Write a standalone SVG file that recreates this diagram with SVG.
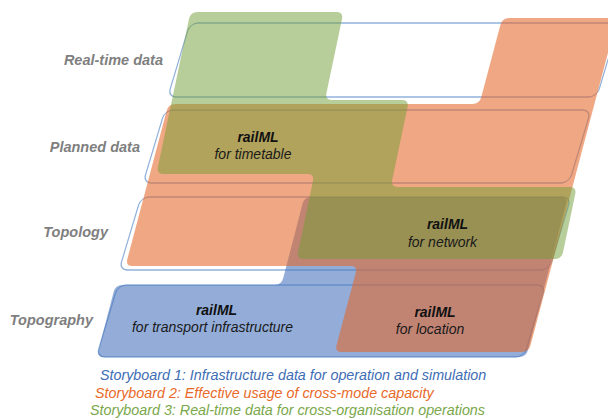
<svg xmlns="http://www.w3.org/2000/svg" width="608" height="419" viewBox="0 0 608 419">
  <style>
    .frame { fill: none; stroke: #93b2dc; stroke-width: 1.3; }
    .lbl { font-family: "Liberation Sans", Arial, sans-serif; font-size: 14.5px; font-weight: bold; font-style: italic; fill: #7f7f7f; text-anchor: end; }
    .rml { font-family: "Liberation Sans", Arial, sans-serif; font-size: 14px; font-weight: bold; font-style: italic; fill: #111111; text-anchor: middle; }
    .rmf { font-family: "Liberation Sans", Arial, sans-serif; font-size: 14px; font-style: italic; fill: #1a1a1a; text-anchor: middle; }
    .leg { font-family: "Liberation Sans", Arial, sans-serif; font-size: 14.3px; font-style: italic; }
  </style>
  <rect width="608" height="419" fill="#ffffff"/>

  <!-- layer frames -->
  <g id="layer-real-time">
    <rect class="frame" x="196.9" y="23" width="429" height="74" rx="8" transform="skewX(-16.7)"/>
    <text class="lbl" x="163" y="65">Real-time data</text>
  </g>
  <g id="layer-planned">
    <rect class="frame" x="198" y="110" width="426" height="73" rx="8" transform="skewX(-16.7)"/>
    <text class="lbl" x="140" y="152">Planned data</text>
  </g>
  <g id="layer-topology">
    <rect class="frame" x="200.1" y="197" width="430" height="73" rx="8" transform="skewX(-16.7)"/>
    <text class="lbl" x="108" y="237">Topology</text>
  </g>
  <g id="layer-topography">
    <rect class="frame" x="203.5" y="285" width="427.6" height="72" rx="8" transform="skewX(-16.7)"/>
    <text class="lbl" x="93" y="325">Topography</text>
  </g>

  <!-- storyboards -->
  <g id="storyboard-1" opacity="0.58">
    <path fill="#4773bd" transform="skewX(-14.57)" d="M 362.5,197 H 612 Q 619,197 619,204 V 350 Q 619,357 612,357 H 196.5 Q 189.5,357 189.5,350 V 292 Q 189.5,285 196.5,285 H 348.5 Q 355.5,285 355.5,278 V 204 Q 355.5,197 362.5,197 Z"/>
  </g>
  <g id="storyboard-2" opacity="0.57">
    <path fill="#e56627" transform="skewX(-14.84)" d="M 203,104 H 500 Q 507,104 507,97 V 25 Q 507,18 514,18 H 615 Q 622,18 622,25 V 345 Q 622,352 615,352 H 435 Q 428,352 428,345 V 273 Q 428,266 421,266 H 203 Q 196,266 196,259 V 111 Q 196,104 203,104 Z"/>
  </g>
  <g id="storyboard-3" opacity="0.5">
    <path fill="#739f37" transform="skewX(-11.86)" d="M 200,12 H 339 Q 346,12 346,19 V 93 Q 346,100 353,100 H 423 Q 430,100 430,107 V 180 Q 430,187 437,187 H 609 Q 616,187 616,194 V 252 Q 616,259 609,259 H 358 Q 351,259 351,252 V 181 Q 351,174 344,174 H 200 Q 193,174 193,167 V 19 Q 193,12 200,12 Z"/>
  </g>

  <!-- railML schemes -->
  <g id="railml-timetable">
    <text class="rml" x="258" y="142">railML</text>
    <text class="rmf" x="253" y="158.5">for timetable</text>
  </g>
  <g id="railml-network">
    <text class="rml" x="447.5" y="229">railML</text>
    <text class="rmf" x="442.5" y="246.5">for network</text>
  </g>
  <g id="railml-infrastructure">
    <text class="rml" x="216.5" y="315">railML</text>
    <text class="rmf" x="212.5" y="332">for transport infrastructure</text>
  </g>
  <g id="railml-location">
    <text class="rml" x="435" y="317">railML</text>
    <text class="rmf" x="430" y="334">for location</text>
  </g>

  <!-- legend -->
  <g id="legend">
    <text class="leg" x="100" y="380" fill="#3e6db5">Storyboard 1: Infrastructure data for operation and simulation</text>
    <text class="leg" x="95" y="398" fill="#e8692a">Storyboard 2: Effective usage of cross-mode capacity</text>
    <text class="leg" x="90" y="415" fill="#7aa84b">Storyboard 3: Real-time data for cross-organisation operations</text>
  </g>
</svg>
